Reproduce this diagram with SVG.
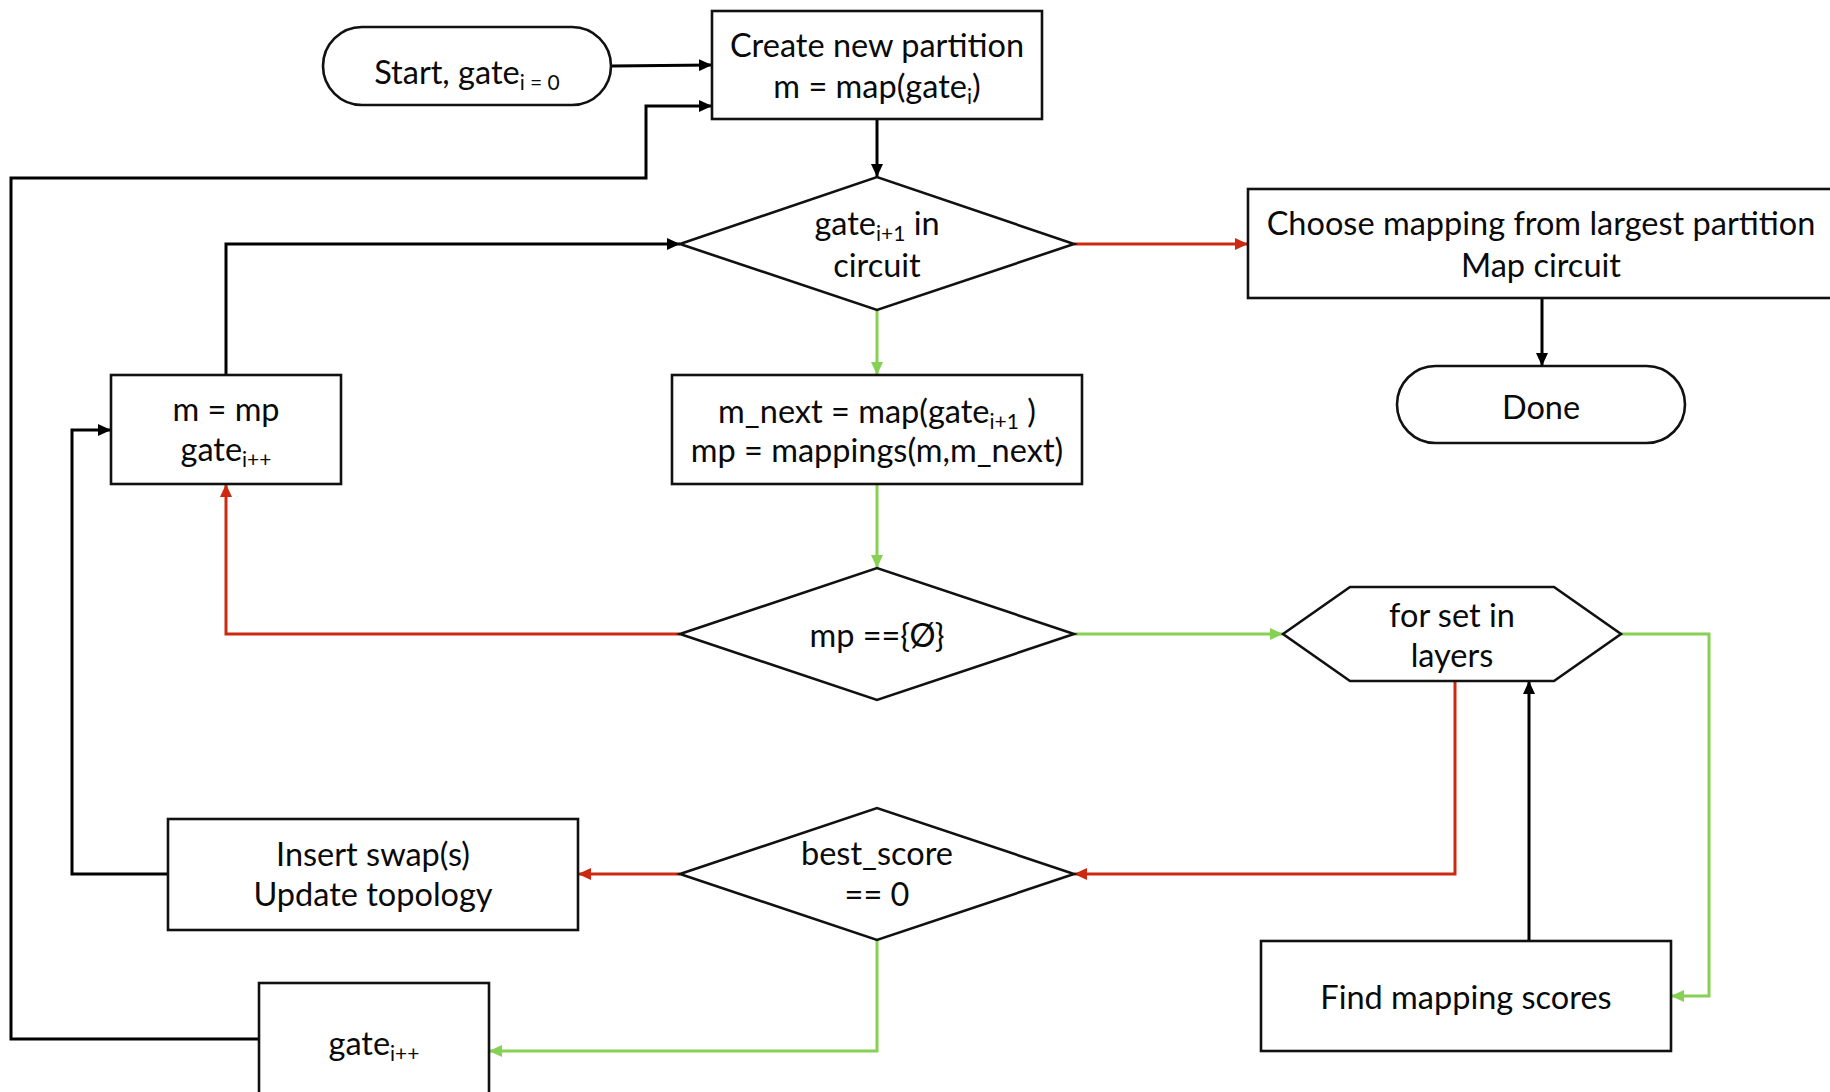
<svg xmlns="http://www.w3.org/2000/svg" width="1830" height="1092" viewBox="0 0 1830 1092">
  <style>
    .node { fill: #ffffff; stroke: #111111; stroke-width: 2.6; }
    .lbl { font-family: Lato, "Open Sans", "Liberation Sans", sans-serif; font-size: 32.5px; fill: #0a0a0a; text-anchor: middle; }
    .sub { font-size: 21px; }
    .c { fill: none; stroke-width: 3; stroke-linejoin: miter; }
    .k { stroke: #000000; }
    .r { stroke: #CC2A10; }
    .g { stroke: #86D053; }
  </style>
  <defs>
    <marker id="ak" markerUnits="userSpaceOnUse" markerWidth="14" markerHeight="12" refX="13" refY="6" orient="auto">
      <path d="M0,0 L13,6 L0,12 z" fill="#000000"/>
    </marker>
    <marker id="ar" markerUnits="userSpaceOnUse" markerWidth="14" markerHeight="12" refX="13" refY="6" orient="auto">
      <path d="M0,0 L13,6 L0,12 z" fill="#CC2A10"/>
    </marker>
    <marker id="ag" markerUnits="userSpaceOnUse" markerWidth="14" markerHeight="12" refX="13" refY="6" orient="auto">
      <path d="M0,0 L13,6 L0,12 z" fill="#86D053"/>
    </marker>
  </defs>

  <rect width="1830" height="1092" fill="#ffffff"/>

  <!-- connectors -->
  <g id="connectors">
    <path class="c k" d="M612,66 L712,65" marker-end="url(#ak)"/>
    <path class="c k" d="M259,1039 H11 V178 H646 V106 H712" marker-end="url(#ak)"/>
    <path class="c k" d="M877,119 V177" marker-end="url(#ak)"/>
    <path class="c r" d="M1074,244 H1248" marker-end="url(#ar)"/>
    <path class="c k" d="M1542,298 V366" marker-end="url(#ak)"/>
    <path class="c g" d="M877,310 V375" marker-end="url(#ag)"/>
    <path class="c g" d="M877,484 V568" marker-end="url(#ag)"/>
    <path class="c r" d="M680,634 H226 V484" marker-end="url(#ar)"/>
    <path class="c k" d="M226,375 V244 H680" marker-end="url(#ak)"/>
    <path class="c g" d="M1074,634 H1283" marker-end="url(#ag)"/>
    <path class="c g" d="M1621,634 H1709 V996 H1671" marker-end="url(#ag)"/>
    <path class="c k" d="M1529,941 V681" marker-end="url(#ak)"/>
    <path class="c r" d="M1455,681 V874 H1074" marker-end="url(#ar)"/>
    <path class="c r" d="M680,874 H578" marker-end="url(#ar)"/>
    <path class="c k" d="M168,874 H72 V430 H111" marker-end="url(#ak)"/>
    <path class="c g" d="M877,940 V1051 H489" marker-end="url(#ag)"/>
  </g>

  <!-- nodes -->
  <g id="start">
    <rect class="node" x="323" y="27" width="288" height="78" rx="39" ry="39"/>
    <text class="lbl" x="467" y="84">Start, gate<tspan class="sub" dy="6">i = 0</tspan></text>
  </g>

  <g id="create-partition">
    <rect class="node" x="712" y="11" width="330" height="108"/>
    <text class="lbl" x="877" y="57">Create new partition</text>
    <text class="lbl" x="877" y="98">m = map(gate<tspan class="sub" dy="6">i</tspan><tspan dy="-6">)</tspan></text>
  </g>

  <g id="gate-in-circuit">
    <polygon class="node" points="680,244 877,177 1074,244 877,310"/>
    <text class="lbl" x="877" y="235">gate<tspan class="sub" dy="6">i+1</tspan><tspan dy="-6"> in</tspan></text>
    <text class="lbl" x="877" y="277">circuit</text>
  </g>

  <g id="choose-mapping">
    <rect class="node" x="1248" y="189" width="590" height="109"/>
    <text class="lbl" x="1541" y="235">Choose mapping from largest partition</text>
    <text class="lbl" x="1541" y="277">Map circuit</text>
  </g>

  <g id="done">
    <rect class="node" x="1397" y="366" width="288" height="77" rx="38.5" ry="38.5"/>
    <text class="lbl" x="1541" y="419">Done</text>
  </g>

  <g id="next-mapping">
    <rect class="node" x="672" y="375" width="410" height="109"/>
    <text class="lbl" x="877" y="423">m_next = map(gate<tspan class="sub" dy="6">i+1</tspan><tspan dy="-6"> )</tspan></text>
    <text class="lbl" x="877" y="462">mp = mappings(m,m_next)</text>
  </g>

  <g id="update-m">
    <rect class="node" x="111" y="375" width="230" height="109"/>
    <text class="lbl" x="226" y="421">m = mp</text>
    <text class="lbl" x="226" y="461">gate<tspan class="sub" dy="6">i++</tspan></text>
  </g>

  <g id="mp-empty">
    <polygon class="node" points="680,634 877,568 1074,634 877,700"/>
    <text class="lbl" x="877" y="647">mp =={Ø}</text>
  </g>

  <g id="for-set-in-layers">
    <polygon class="node" points="1283,634 1350,587 1554,587 1621,634 1554,681 1350,681"/>
    <text class="lbl" x="1452" y="627">for set in</text>
    <text class="lbl" x="1452" y="667">layers</text>
  </g>

  <g id="find-scores">
    <rect class="node" x="1261" y="941" width="410" height="110"/>
    <text class="lbl" x="1466" y="1009">Find mapping scores</text>
  </g>

  <g id="best-score">
    <polygon class="node" points="680,874 877,808 1074,874 877,940"/>
    <text class="lbl" x="877" y="865">best_score</text>
    <text class="lbl" x="877" y="906">== 0</text>
  </g>

  <g id="insert-swaps">
    <rect class="node" x="168" y="819" width="410" height="111"/>
    <text class="lbl" x="373" y="866">Insert swap(s)</text>
    <text class="lbl" x="373" y="906">Update topology</text>
  </g>

  <g id="gate-increment">
    <rect class="node" x="259" y="983" width="230" height="120"/>
    <text class="lbl" x="374" y="1055">gate<tspan class="sub" dy="6">i++</tspan></text>
  </g>
</svg>
